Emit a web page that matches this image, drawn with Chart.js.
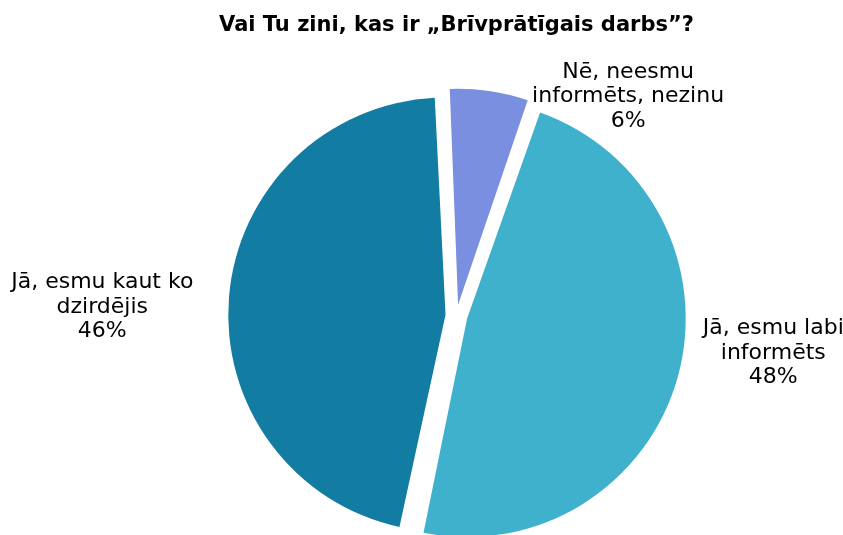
<!DOCTYPE html>
<html>
<head>
<meta charset="utf-8">
<script src="https://cdn.jsdelivr.net/npm/chart.js@4"></script>
<style>
  html, body { margin: 0; padding: 0; background: #fff; overflow: hidden; }
  #wrap { width: 843px; height: 585px; position: relative; }
</style>
</head>
<body>
<div id="wrap"><canvas id="pieChart"></canvas></div>
<script>
// answers, in clockwise order from the top
const labels = [
    ['Nē, neesmu', 'informēts, nezinu'],
    ['Jā, esmu labi', 'informēts'],
    ['Jā, esmu kaut ko', 'dzirdējis']
];
const shares = [6, 48, 46];
const colors = ['#7A8FDF', '#40B1CC', '#127CA3'];

// where each label sits, as a fraction of 220px from the pie centre
const labelAnchors = [[0.78, -0.995], [1.44, 0.17], [-1.61, -0.04]];

const pieLabels = {
    id: 'pieLabels',
    afterDatasetsDraw(chart) {
        const ctx = chart.ctx;
        const cx = (chart.chartArea.left + chart.chartArea.right) / 2;
        const cy = (chart.chartArea.top + chart.chartArea.bottom) / 2;
        const r = 220;
        ctx.save();
        ctx.font = '22px "DejaVu Sans", Verdana, sans-serif';
        ctx.fillStyle = '#000';
        ctx.textAlign = 'center';
        ctx.textBaseline = 'middle';
        const lh = 24.5;
        labels.forEach((lines, i) => {
            const all = lines.concat([shares[i] + '%']);
            const x = cx + labelAnchors[i][0] * r;
            const y = cy + labelAnchors[i][1] * r;
            all.forEach((t, j) => {
                ctx.fillText(t, x, y + (j - (all.length - 1) / 2) * lh);
            });
        });
        ctx.restore();
    }
};

new Chart(document.getElementById('pieChart'), {
    type: 'pie',
    data: {
        labels: labels.map(l => l.join(' ')),
        datasets: [{
            data: shares,
            backgroundColor: colors,
            borderWidth: 0,
            offset: 44   // drawn as offset / 4, big slices also grow by it
        }]
    },
    options: {
        responsive: true,
        maintainAspectRatio: false,
        animation: false,
        rotation: -2.5,
        radius: 209,
        layout: { padding: { left: 70, top: 0, bottom: 4 } },
        plugins: {
            legend: { display: false },
            tooltip: { enabled: false },
            title: {
                display: true,
                fullSize: false,
                text: 'Vai Tu zini, kas ir „Brīvprātīgais darbs”?',
                color: '#000',
                font: { family: '"DejaVu Sans", Verdana, sans-serif', size: 21, weight: 'bold' },
                padding: { top: 13, bottom: 12 }
            }
        }
    },
    plugins: [pieLabels]
});
</script>
</body>
</html>
